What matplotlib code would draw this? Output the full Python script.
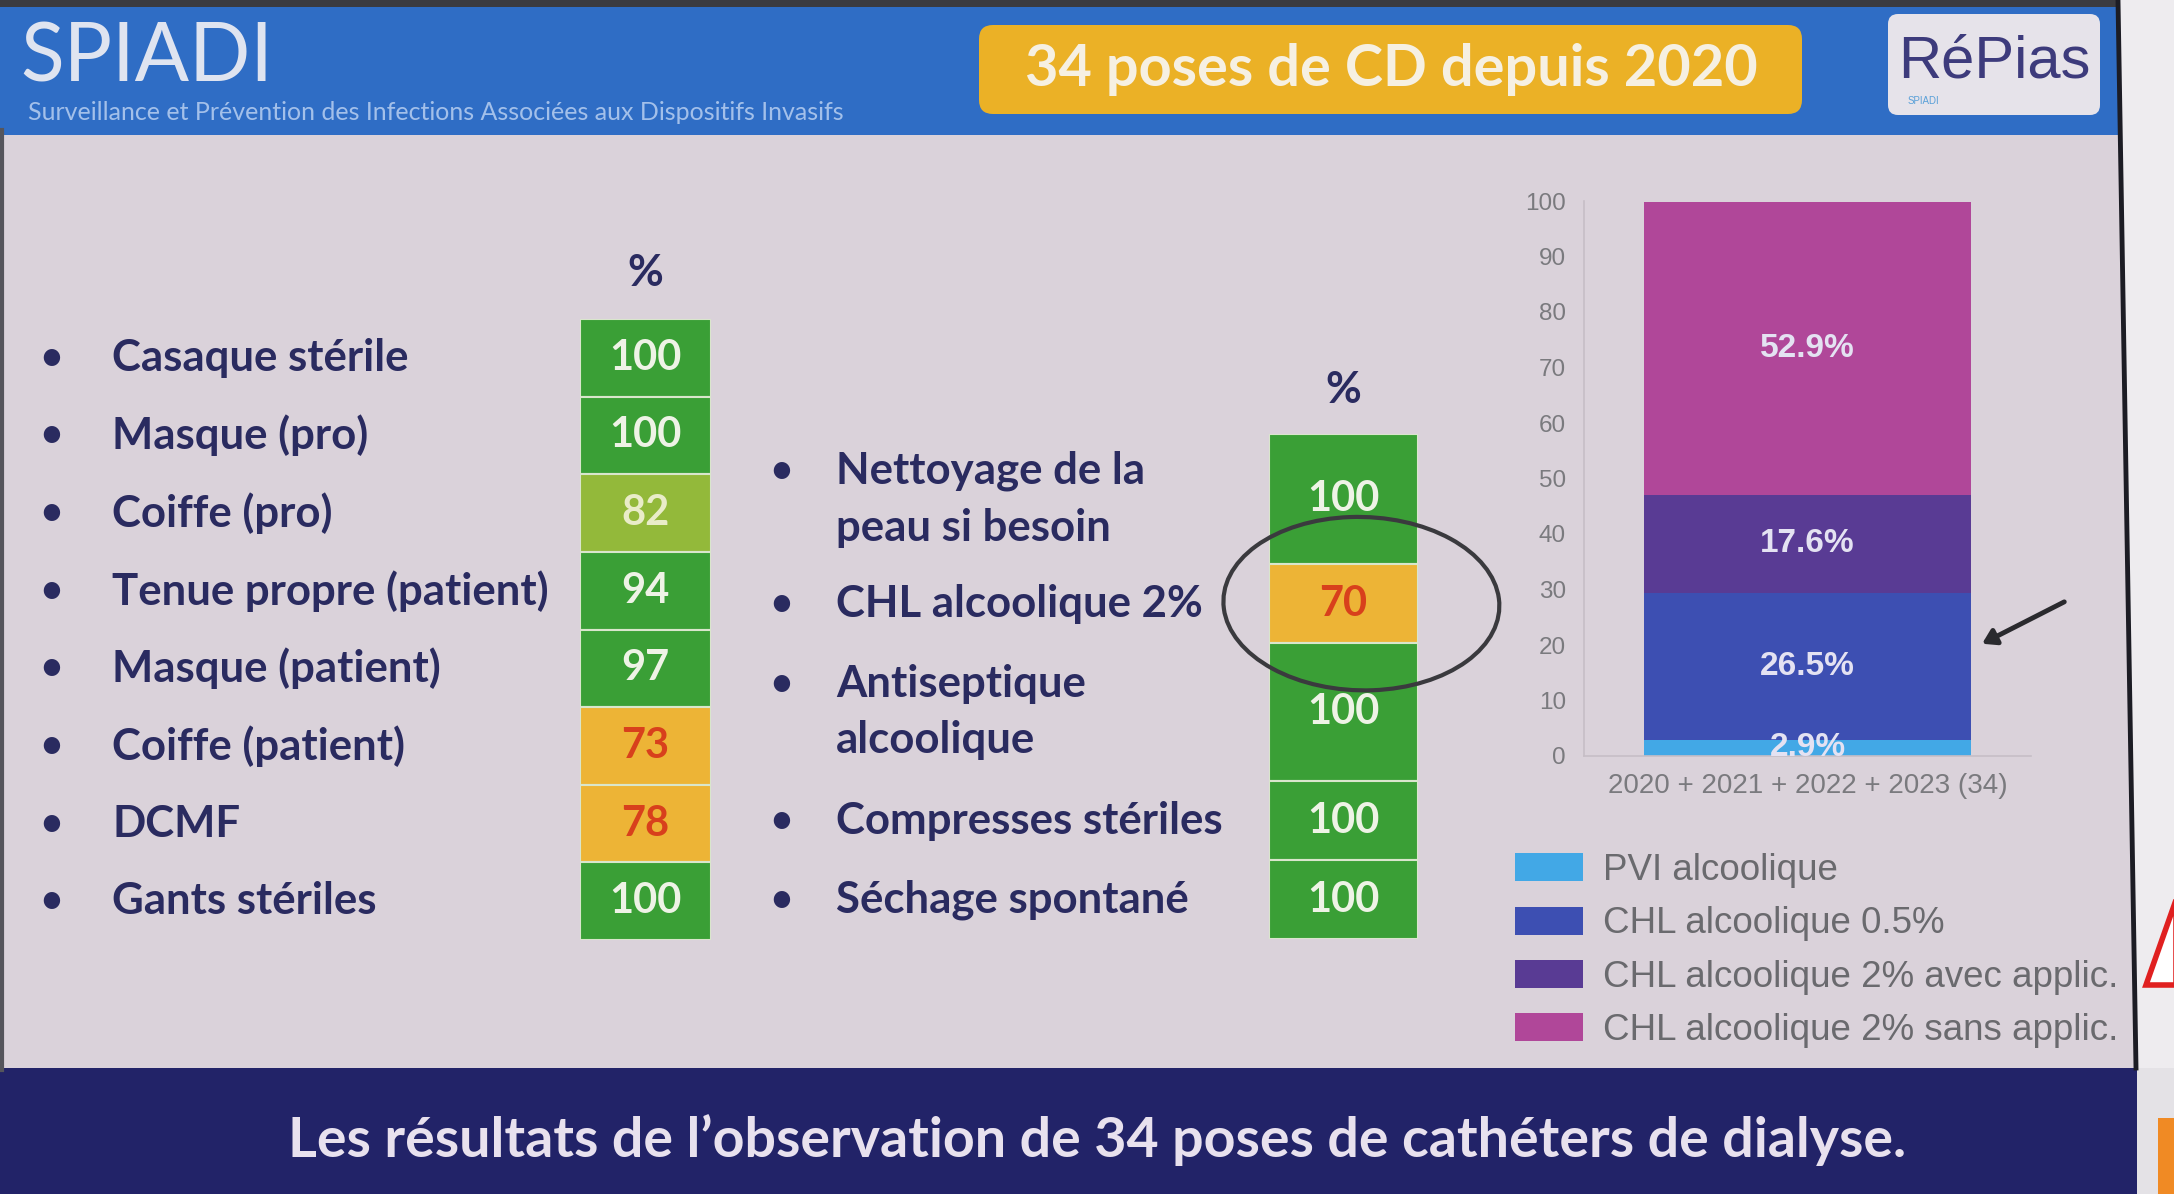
import matplotlib
matplotlib.use('Agg')
import matplotlib.pyplot as plt
import numpy as np
from matplotlib import transforms
from matplotlib.patches import FancyBboxPatch, Rectangle, Ellipse, Polygon

W, H = 2174, 1194

# left table
LEFT_ITEMS = ['Casaque stérile', 'Masque (pro)', 'Coiffe (pro)', 'Tenue propre (patient)',
              'Masque (patient)', 'Coiffe (patient)', 'DCMF', 'Gants stériles']
LEFT_VALUES = [100, 100, 82, 94, 97, 73, 78, 100]

# middle table
MID_ITEMS = ['Nettoyage de la\npeau si besoin', 'CHL alcoolique 2%', 'Antiseptique\nalcoolique',
             'Compresses stériles', 'Séchage spontané']
MID_VALUES = [100, 70, 100, 100, 100]

# stacked bar
BAR_CATEGORY = ['2020 + 2021 + 2022 + 2023 (34)']
BAR_SERIES = ['PVI alcoolique', 'CHL alcoolique 0.5%',
              'CHL alcoolique 2% avec applic.', 'CHL alcoolique 2% sans applic.']
BAR_VALUES = [2.9, 26.5, 17.6, 52.9]

# layout / style
MID_ROW_SPANS = [1.65, 1.0, 1.75, 1.0, 1.0]
BAR_COLORS = ['#42a8e6', '#3d4fb2', '#593b94', '#b04799']
BG = '#dad2da'
NAVY = '#2a2b60'
SLIDE_FONT = ['Lato', 'DejaVu Sans']
CHART_FONT = ['Liberation Sans', 'DejaVu Sans']


def cell_style(v):
    if v >= 90:
        return '#3a9f36', '#eef3e6'
    if v >= 80:
        return '#93b93a', '#e9ecc8'
    return '#edb436', '#d8401c'


def px_axes(fig, x0, y0, x1, y1):
    return fig.add_axes([x0 / W, 1 - y1 / H, (x1 - x0) / W, (y1 - y0) / H])


fig = plt.figure(figsize=(W / 100, H / 100), dpi=100, facecolor=BG)

# canvas for slide decoration (pixel coords, y down)
cv = fig.add_axes([0, 0, 1, 1])
cv.set_xlim(0, W)
cv.set_ylim(H, 0)
cv.axis('off')
cv.set_facecolor(BG)

cv.add_patch(Rectangle((0, 0), 2117, 8, color='#3b3b40', lw=0))
cv.add_patch(Rectangle((0, 7), 2119, 128, color='#2f6dc5', lw=0))
cv.add_patch(Rectangle((0, 1068), 2137, 126, color='#222368', lw=0))
cv.add_patch(Polygon([(2117, 0), (2174, 0), (2174, 1068), (2135, 1068)], closed=True,
                     color='#eeecef', lw=0))
cv.add_patch(Rectangle((2137, 1068), 37, 126, color='#e4e2e6', lw=0))
cv.add_patch(Rectangle((2158, 1118), 16, 76, color='#f08a24', lw=0))
cv.plot([2118, 2136], [0, 1068], color='#1c1c24', lw=3.5)
cv.plot([2, 2], [130, 1070], color='#55555c', lw=3)
cv.add_patch(Polygon([(2146, 985), (2176, 900), (2176, 985)], closed=True,
                     facecolor='white', edgecolor='#e02020', lw=4))

cv.text(20, 58, 'SPIADI', family=SLIDE_FONT, fontsize=58, color='#dfe4f0',
        ha='left', va='center')
cv.text(28, 112, 'Surveillance et Prévention des Infections Associées aux Dispositifs Invasifs',
        family=SLIDE_FONT, fontsize=18, color='#a3c0ea', ha='left', va='center')

cv.add_patch(FancyBboxPatch((979, 25), 823, 89, boxstyle='round,pad=0,rounding_size=14',
                            facecolor='#ebb126', edgecolor='none'))
cv.text(1391, 70, '34 poses de CD depuis 2020', family=SLIDE_FONT, fontsize=41.5,
        fontweight='bold', color='#f6f0e2', ha='center', va='center')

cv.add_patch(FancyBboxPatch((1888, 14), 212, 101, boxstyle='round,pad=0,rounding_size=10',
                            facecolor='#e6e3ea', edgecolor='none'))
cv.text(1994, 62, 'RéPias', family=CHART_FONT, fontsize=43, color='#3d3b7c',
        ha='center', va='center')
cv.text(1908, 101, 'SPIADI', family=CHART_FONT, fontsize=7, color='#5aa0d8',
        ha='left', va='center')

cv.text(1097, 1140, 'Les résultats de l\u2019observation de 34 poses de cathéters de dialyse.',
        family=SLIDE_FONT, fontsize=40, fontweight='bold', color='#e8e1ee',
        ha='center', va='center')

label_kw = dict(family=SLIDE_FONT, fontsize=31.5, fontweight='bold', color=NAVY, va='center')
bullet_kw = dict(family=SLIDE_FONT, fontsize=27, fontweight='bold', color=NAVY, va='center')
value_kw = dict(family=SLIDE_FONT, fontsize=30, fontweight='bold', ha='center', va='center')

# ---- left table
ax = px_axes(fig, 580, 319, 711, 940)
rows = np.arange(len(LEFT_VALUES))
styles = [cell_style(v) for v in LEFT_VALUES]
ax.barh(rows, 1, height=1, left=0, color=[s[0] for s in styles],
        edgecolor='#d9e6cc', linewidth=1.5)
ax.set_xlim(0, 1)
ax.set_ylim(len(rows) - 0.5, -0.5)
ax.axis('off')
for r, v, s in zip(rows, LEFT_VALUES, styles):
    ax.text(0.5, r, str(v), color=s[1], **value_kw)
tr = transforms.blended_transform_factory(fig.transFigure, ax.transData)
for r, name in zip(rows, LEFT_ITEMS):
    ax.text(51 / W, r, '•', transform=tr, ha='center', **bullet_kw)
    ax.text(112 / W, r, name, transform=tr, ha='left', **label_kw)
ax.text(0.5, -0.5, '%', transform=transforms.offset_copy(ax.transData, fig, y=46, units='dots'),
        ha='center', **label_kw)

# ---- middle table
mx = px_axes(fig, 1269, 434, 1418, 939)
spans = np.array(MID_ROW_SPANS)
tops = np.concatenate([[0], np.cumsum(spans)[:-1]])
centers = tops + spans / 2
mstyles = [cell_style(v) for v in MID_VALUES]
mx.barh(centers, 1, height=spans, left=0, color=[s[0] for s in mstyles],
        edgecolor='#d9e6cc', linewidth=1.5)
mx.set_xlim(0, 1)
mx.set_ylim(spans.sum(), 0)
mx.axis('off')
for c, v, s in zip(centers, MID_VALUES, mstyles):
    mx.text(0.5, c, str(v), color=s[1], **value_kw)
tr2 = transforms.blended_transform_factory(fig.transFigure, mx.transData)
for c, name in zip(centers, MID_ITEMS):
    n_lines = name.count('\n') + 1
    bullet_tr = transforms.offset_copy(tr2, fig, y=28.5 * (n_lines - 1), units='dots')
    mx.text(781 / W, c, '•', transform=bullet_tr, ha='center', **bullet_kw)
    mx.text(836 / W, c, name, transform=tr2, ha='left', linespacing=1.5, **label_kw)
mx.text(0.5, 0, '%', transform=transforms.offset_copy(mx.transData, fig, y=44, units='dots'),
        ha='center', **label_kw)
# hand-drawn circle around the 70 cell
i70 = MID_VALUES.index(70)
mx.add_patch(Ellipse((0.62, centers[i70]), 1.85, 2.2, angle=-4, fill=False,
                     edgecolor='#3a3a3e', lw=3, clip_on=False))

# ---- stacked bar chart
bx = px_axes(fig, 1584, 201, 2031, 756)
bx.set_facecolor('none')
bottoms = np.concatenate([[0], np.cumsum(BAR_VALUES)[:-1]])
for name, val, b, col in zip(BAR_SERIES, BAR_VALUES, bottoms, BAR_COLORS):
    bx.bar(0, val, bottom=b, width=0.73, color=col, label=name)
    bx.text(0, b + val / 2, f'{val:.1f}%', ha='center', va='center', family=CHART_FONT,
            fontsize=24, fontweight='bold', color='#e4e2f2', clip_on=True)
bx.set_xlim(-0.5, 0.5)
bx.set_ylim(0, 100)
bx.set_yticks(np.arange(0, 101, 10))
bx.set_xticks([0], BAR_CATEGORY)
for side in ['top', 'right']:
    bx.spines[side].set_visible(False)
for side in ['left', 'bottom']:
    bx.spines[side].set_color('#c6bec6')
    bx.spines[side].set_linewidth(1.2)
bx.tick_params(axis='both', length=0, colors='#7a7a7e', labelsize=17.5)
bx.tick_params(axis='x', labelsize=20, pad=12)
bx.tick_params(axis='y', pad=13)
for lab in bx.get_xticklabels() + bx.get_yticklabels():
    lab.set_family(CHART_FONT)
# handwritten arrow toward the 0.5% segment
bx.annotate('', xy=(0.385, 20), xytext=(0.58, 28),
            arrowprops=dict(arrowstyle='-|>,head_length=0.8,head_width=0.5', color='#2a2a2e',
                            lw=3.5), annotation_clip=False)

leg = bx.legend(loc='upper left', bbox_to_anchor=(1515 / W, 1 - 853 / H),
                bbox_transform=fig.transFigure, frameon=False, fontsize=26.5,
                handlelength=1.85, handleheight=0.8, handletextpad=0.55,
                labelspacing=0.5, borderpad=0, borderaxespad=0)
for t in leg.get_texts():
    t.set_color('#6a6a6e')
    t.set_family(CHART_FONT)

fig.savefig('out.png', dpi=100, facecolor=BG)
